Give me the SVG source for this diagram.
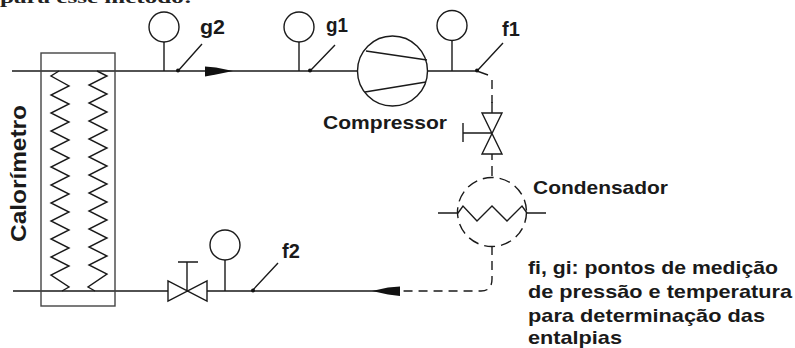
<svg xmlns="http://www.w3.org/2000/svg" width="795" height="348" viewBox="0 0 795 348">
<style>
.l{fill:none;stroke:#1a1a1a;stroke-width:1.4}
.d{fill:none;stroke:#1a1a1a;stroke-width:1.4;stroke-dasharray:9 6}
.t{font-family:"Liberation Sans",Arial,sans-serif;font-weight:bold;fill:#1a1a1a}
.a{fill:#111;stroke:none}
.p{fill:#111;stroke:none}
</style>
<rect width="795" height="348" fill="#fff"/>
<g id="header"><text x="0" y="3" font-family="Liberation Serif,serif" font-weight="bold" font-size="16" fill="#222" textLength="192" lengthAdjust="spacingAndGlyphs">para esse método:</text></g>
<g id="connectors">
<path class="l" d="M12 71H358"/>
<path class="l" d="M427 71H477L488 75"/>
<path class="d" d="M492 80V103"/>
<path class="l" d="M492 102V113"/>
<path class="l" d="M492 154V160M492 166V176"/>
<path class="d" d="M492 246V279Q492 291 481 291H395"/>
<path class="l" d="M13 291H168M207 291H392"/>
<path class="l" d="M164 71V42M299 71V42M452 71V41M225 291V260"/>
<path class="l" d="M178 71L202 44M310 71L335 45M477 71L503 43M252 291L278 263"/>
</g>
<g id="calorimetro"><rect class="l" x="41" y="53" width="74" height="253" style="stroke:#444"/>
<path class="l" d="M59 71L51 76L69 86L51 95L69 104L51 113L69 122L51 131L69 140L51 149L69 158L51 167L69 176L51 185L69 194L51 203L69 212L51 221L69 230L51 239L69 248L51 257L69 266L51 275L69 287L62 291"/>
<path class="l" d="M97 71L107 76L89 85L107 94L89 103L107 112L89 121L107 130L89 139L107 148L89 157L107 166L89 175L107 184L89 193L107 202L89 211L107 220L89 229L107 238L89 247L107 256L89 265L107 274L88 287L95 291"/>
<text class="t" transform="translate(26,242) rotate(-90)" font-size="22" textLength="137" lengthAdjust="spacingAndGlyphs">Calorímetro</text></g>
<g id="gauge-g2"><circle class="l" cx="164" cy="27" r="15"/></g>
<g id="gauge-g1"><circle class="l" cx="299" cy="27" r="15"/></g>
<g id="gauge-f1"><circle class="l" cx="452" cy="25.500" r="15"/></g>
<g id="gauge-f2"><circle class="l" cx="225" cy="245" r="15"/></g>
<g id="points"><circle class="p" cx="178" cy="70.500" r="2"/><circle class="p" cx="310" cy="70.500" r="2"/><circle class="p" cx="477" cy="70.500" r="2"/><circle class="p" cx="253" cy="290.500" r="2"/></g>
<g id="arrow-top"><path class="a" d="M205 66.500L216 67.500L233 71L216 74.500L205 76.500Z"/></g>
<g id="arrow-bottom"><path class="a" d="M400 286.500L388 287.500L372 291L388 294.500L400 296Z"/></g>
<g id="compressor"><circle class="l" cx="392.500" cy="71" r="35"/><path class="l" d="M366 51L427 60M365 92L426 82"/>
<text class="t" x="323" y="129" font-size="18.500" textLength="124" lengthAdjust="spacingAndGlyphs">Compressor</text></g>
<g id="valve-vertical"><path class="l" d="M482 113H502L482 154H502ZM492 133H463M463 123V142"/></g>
<g id="valve-horizontal"><path class="l" d="M168 281V301L207 281V301ZM187 291V262M178 262H198"/></g>
<g id="condensador"><circle class="d" cx="492" cy="212" r="34.500" style="stroke-dasharray:11 6"/>
<path class="l" d="M438 213H458L463 206L477 221L492 206L507 221L522 206L527 213H546"/>
<text class="t" x="533" y="194" font-size="18.500" textLength="135" lengthAdjust="spacingAndGlyphs">Condensador</text></g>
<g id="g-labels"><text class="t" x="200" y="34" font-size="20" textLength="25" lengthAdjust="spacingAndGlyphs">g2</text><text class="t" x="326" y="32" font-size="20" textLength="22" lengthAdjust="spacingAndGlyphs">g1</text><text class="t" x="502" y="36" font-size="20">f1</text><text class="t" x="282" y="258" font-size="20">f2</text></g>
<g id="legend" class="t" font-size="19"><text x="528" y="274" textLength="250" lengthAdjust="spacingAndGlyphs">fi, gi: pontos de medição</text><text x="528" y="298" textLength="264" lengthAdjust="spacingAndGlyphs">de pressão e temperatura</text><text x="528" y="322" textLength="237" lengthAdjust="spacingAndGlyphs">para determinação das</text><text x="528" y="344" textLength="94" lengthAdjust="spacingAndGlyphs">entalpias</text></g>
</svg>
